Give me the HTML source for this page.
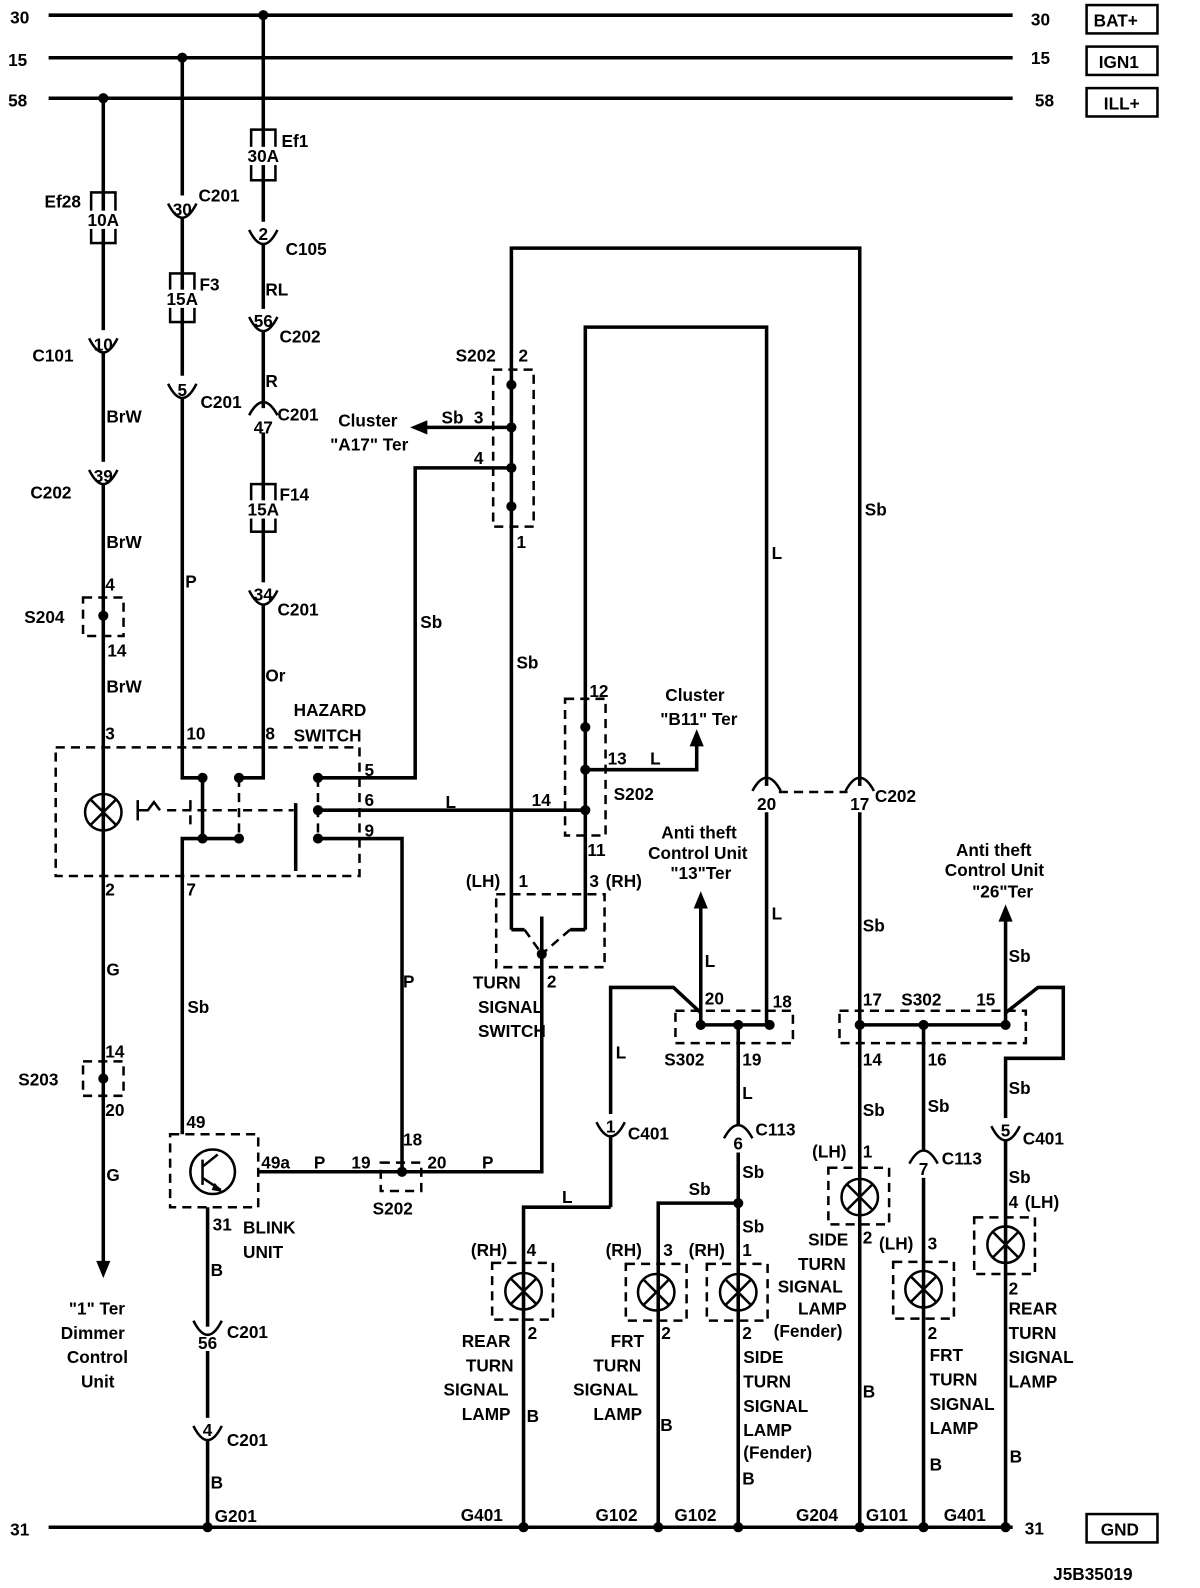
<!DOCTYPE html>
<html><head><meta charset="utf-8"><style>
html,body{margin:0;padding:0;background:#fff;overflow:hidden;width:1200px;height:1588px}
svg{display:block}
text{font-family:"Liberation Sans",Arial,sans-serif;font-weight:bold;font-size:17px;fill:#000}
.m{text-anchor:middle}
.w{stroke:#000;stroke-width:3.5;fill:none}
.t{stroke:#000;stroke-width:2.5;fill:none}
.d{stroke:#000;stroke-width:2.5;fill:none;stroke-dasharray:9,6}
</style></head><body>
<svg width="1200" height="1588" viewBox="0 0 1185 1568" preserveAspectRatio="none" xmlns="http://www.w3.org/2000/svg">
<!-- rails -->
<path class="w" d="M48 15H1000M48 57H1000M48 97H1000M48 1508H1000"/>
<text x="10" y="23">30</text><text x="8" y="65">15</text><text x="8" y="105">58</text><text x="10" y="1516">31</text>
<text x="1018" y="25">30</text><text x="1018" y="63">15</text><text x="1022" y="105">58</text><text x="1012" y="1515">31</text>
<rect x="1073" y="5" width="70" height="28" class="t"/><text x="1080" y="26">BAT+</text>
<rect x="1073" y="46" width="70" height="28" class="t"/><text x="1085" y="67">IGN1</text>
<rect x="1073" y="87" width="70" height="28" class="t"/><text x="1090" y="108">ILL+</text>
<rect x="1073" y="1495" width="70" height="28" class="t"/><text x="1087" y="1516">GND</text>
<text x="1040" y="1560">J5B35019</text>

<!-- x=102 column -->
<path class="w" d="M102 97V1250"/>
<path d="M95 1245L102 1262L109 1245Z"/>
<circle cx="102" cy="97" r="5"/>
<rect x="90" y="190" width="24" height="50" fill="#fff" class="t"/>
<rect x="88" y="208" width="28" height="18" fill="#fff"/>
<text x="102" y="223" class="m">10A</text><text x="44" y="205">Ef28</text>
<text x="32" y="357">C101</text><text x="105" y="417">BrW</text>
<text x="30" y="492">C202</text><text x="105" y="541">BrW</text>
<text x="104" y="583">4</text>
<rect x="82" y="590" width="40" height="38" class="d"/><circle cx="102" cy="608" r="5"/>
<text x="24" y="615">S204</text><text x="106" y="648">14</text>
<text x="105" y="684">BrW</text><text x="104" y="730">3</text>
<circle cx="102" cy="802" r="18" fill="#fff" class="t"/>
<path class="t" d="M89 789L115 815M115 789L89 815"/>
<text x="104" y="884">2</text><text x="105" y="963">G</text>
<text x="104" y="1044">14</text>
<rect x="82" y="1048" width="40" height="34" class="d"/><circle cx="102" cy="1065" r="5"/>
<text x="18" y="1072">S203</text><text x="104" y="1102">20</text>
<text x="105" y="1166">G</text>
<text x="68" y="1298">"1" Ter</text><text x="60" y="1322">Dimmer</text><text x="66" y="1346">Control</text><text x="80" y="1370">Unit</text>

<!-- x=180 column -->
<path class="w" d="M180 57V768H200M200 828H180V1120"/>
<circle cx="180" cy="57" r="5"/>
<text x="196" y="199">C201</text>
<rect x="168" y="270" width="24" height="48" fill="#fff" class="t"/>
<rect x="164" y="286" width="32" height="18" fill="#fff"/>
<text x="180" y="301" class="m">15A</text><text x="197" y="287">F3</text>
<text x="198" y="403">C201</text>
<text x="183" y="580">P</text><text x="184" y="730">10</text><text x="184" y="884">7</text>
<text x="185" y="1000">Sb</text><text x="184" y="1114">49</text>

<!-- x=260 column -->
<path class="w" d="M260 15V768H236"/>
<circle cx="260" cy="15" r="5"/>
<rect x="248" y="128" width="24" height="50" fill="#fff" class="t"/>
<rect x="244" y="145" width="32" height="18" fill="#fff"/>
<text x="260" y="160" class="m">30A</text><text x="278" y="145">Ef1</text>
<text x="282" y="252">C105</text>
<text x="262" y="292">RL</text>
<text x="276" y="338">C202</text>
<text x="262" y="382">R</text>
<text x="274" y="415">C201</text>
<rect x="248" y="478" width="24" height="47" fill="#fff" class="t"/>
<rect x="244" y="494" width="32" height="18" fill="#fff"/>
<text x="260" y="509" class="m">15A</text><text x="276" y="494">F14</text>
<text x="274" y="608">C201</text>
<text x="262" y="673">Or</text><text x="262" y="730">8</text>
<text x="290" y="707">HAZARD</text><text x="290" y="732">SWITCH</text>

<!-- hazard switch -->
<rect x="55" y="738" width="300" height="127" class="d"/>
<path class="w" d="M200 768V828H236"/>
<path class="d" d="M236 768V828M314 768V828M188 790V818M165 800H290"/>
<path class="w" d="M292 793V860"/>
<path class="t" d="M136 790V810M136 800H146L152 792L158 800"/>
<circle cx="200" cy="768" r="5"/><circle cx="236" cy="768" r="5"/><circle cx="200" cy="828" r="5"/><circle cx="236" cy="828" r="5"/>
<circle cx="314" cy="768" r="5"/><circle cx="314" cy="800" r="5"/><circle cx="314" cy="828" r="5"/>
<path class="w" d="M314 768H410V462H505M314 800H578M314 828H397V1157"/>
<text x="360" y="766">5</text><text x="360" y="796">6</text><text x="360" y="826">9</text>
<text x="415" y="620">Sb</text><text x="440" y="798">L</text><text x="525" y="796">14</text>
<text x="398" y="975">P</text>

<!-- blink unit -->
<rect x="168" y="1120" width="87" height="72" class="d"/>
<circle cx="210" cy="1157" r="22" class="t"/>
<path class="t" d="M200 1145V1170M200 1152L215 1140M200 1163L218 1175"/>
<path d="M212 1168L220 1177L209 1175Z"/>
<path class="w" d="M255 1157H397M397 1157H535V942"/>
<text x="258" y="1154">49a</text><text x="310" y="1154">P</text><text x="347" y="1154">19</text>
<text x="398" y="1131">18</text><text x="422" y="1154">20</text><text x="476" y="1154">P</text>
<rect x="376" y="1148" width="40" height="28" class="d"/><circle cx="397" cy="1157" r="5"/>
<text x="368" y="1199">S202</text>
<text x="210" y="1215">31</text><text x="240" y="1218">BLINK</text><text x="240" y="1242">UNIT</text>
<path class="w" d="M205 1192V1508"/>
<text x="208" y="1260">B</text>
<text x="224" y="1321">C201</text>
<text x="224" y="1428">C201</text>
<text x="208" y="1470">B</text><text x="212" y="1503">G201</text>
<circle cx="205" cy="1508" r="5"/>

<!-- x=505 / top loop -->
<path class="w" d="M505 918V245H849V1508M505 918H518"/>
<rect x="487" y="365" width="40" height="155" class="d"/>
<circle cx="505" cy="380" r="5"/><circle cx="505" cy="422" r="5"/><circle cx="505" cy="462" r="5"/><circle cx="505" cy="500" r="5"/>
<text x="450" y="357">S202</text><text x="512" y="357">2</text>
<path class="w" d="M505 422H420"/><path d="M422 415L405 422L422 429Z"/>
<text x="436" y="418">Sb</text><text x="468" y="418">3</text><text x="468" y="458">4</text><text x="510" y="541">1</text>
<text x="334" y="421">Cluster</text><text x="326" y="445">"A17" Ter</text>
<text x="510" y="660">Sb</text><text x="854" y="509">Sb</text>

<!-- x=578 loop -->
<path class="w" d="M578 918V323H757V1012"/>
<rect x="558" y="690" width="40" height="135" class="d"/>
<circle cx="578" cy="718" r="5"/><circle cx="578" cy="760" r="5"/><circle cx="578" cy="800" r="5"/>
<text x="582" y="688">12</text><text x="600" y="755">13</text><text x="606" y="790">S202</text><text x="580" y="845">11</text>
<path class="w" d="M578 760H688V735"/><path d="M681 737L688 720L695 737Z"/>
<text x="642" y="755">L</text>
<text x="657" y="692">Cluster</text><text x="652" y="716">"B11" Ter</text>
<text x="762" y="552">L</text>
<path class="d" d="M769 782H837"/>
<text x="864" y="792">C202</text>

<!-- turn signal switch -->
<rect x="490" y="883" width="107" height="72" class="d"/>
<path class="w" d="M578 918H563M535 905V942"/>
<path class="d" d="M518 918L535 942M563 918L535 942"/>
<circle cx="535" cy="942" r="5"/>
<text x="460" y="876">(LH)</text><text x="512" y="876">1</text><text x="582" y="876">3</text><text x="598" y="876">(RH)</text>
<text x="540" y="975">2</text>
<text x="467" y="976">TURN</text><text x="472" y="1000">SIGNAL</text><text x="472" y="1024">SWITCH</text>

<!-- S302 left -->
<text x="653" y="828">Anti theft</text><text x="640" y="848">Control Unit</text><text x="662" y="868">"13"Ter</text>
<path class="w" d="M692 1012V895"/><path d="M685 897L692 880L699 897Z"/>
<text x="696" y="955">L</text><text x="762" y="908">L</text>
<rect x="667" y="998" width="116" height="32" class="d"/>
<path class="w" d="M692 1012H760M603 1192V975H665L692 1000M729 1012V1508"/>
<circle cx="692" cy="1012" r="5"/><circle cx="729" cy="1012" r="5"/><circle cx="760" cy="1012" r="5"/>
<text x="696" y="992">20</text><text x="763" y="995">18</text><text x="656" y="1052">S302</text><text x="733" y="1052">19</text>
<text x="608" y="1045">L</text><text x="733" y="1085">L</text>
<text x="620" y="1125">C401</text>
<text x="746" y="1121">C113</text>
<text x="733" y="1163">Sb</text><text x="733" y="1217">Sb</text>
<path class="w" d="M603 1192H517V1508M729 1188H650V1508"/>
<circle cx="729" cy="1188" r="5"/>
<text x="555" y="1188">L</text><text x="680" y="1180">Sb</text>

<!-- lamps -->
<g>
<rect x="486" y="1247" width="60" height="56" class="d"/>
<circle cx="517" cy="1275" r="18" fill="#fff" class="t"/><path class="t" d="M504 1262L530 1288M530 1262L504 1288"/>
<rect x="618" y="1248" width="60" height="56" class="d"/>
<circle cx="648" cy="1276" r="18" fill="#fff" class="t"/><path class="t" d="M635 1263L661 1289M661 1263L635 1289"/>
<rect x="698" y="1248" width="60" height="56" class="d"/>
<circle cx="729" cy="1276" r="18" fill="#fff" class="t"/><path class="t" d="M716 1263L742 1289M742 1263L716 1289"/>
<rect x="818" y="1153" width="60" height="56" class="d"/>
<circle cx="849" cy="1182" r="18" fill="#fff" class="t"/><path class="t" d="M836 1169L862 1195M862 1169L836 1195"/>
<rect x="882" y="1246" width="60" height="56" class="d"/>
<circle cx="912" cy="1273" r="18" fill="#fff" class="t"/><path class="t" d="M899 1260L925 1286M925 1260L899 1286"/>
<rect x="962" y="1202" width="60" height="56" class="d"/>
<circle cx="993" cy="1229" r="18" fill="#fff" class="t"/><path class="t" d="M980 1216L1006 1242M1006 1216L980 1242"/>
</g>
<text x="465" y="1240">(RH)</text><text x="520" y="1240">4</text><text x="521" y="1322">2</text>
<text x="456" y="1330">REAR</text><text x="460" y="1354">TURN</text><text x="438" y="1378">SIGNAL</text><text x="456" y="1402">LAMP</text><text x="520" y="1404">B</text>
<text x="598" y="1240">(RH)</text><text x="655" y="1240">3</text><text x="653" y="1322">2</text>
<text x="603" y="1330">FRT</text><text x="586" y="1354">TURN</text><text x="566" y="1378">SIGNAL</text><text x="586" y="1402">LAMP</text><text x="652" y="1413">B</text>
<text x="680" y="1240">(RH)</text><text x="733" y="1240">1</text><text x="733" y="1322">2</text>
<text x="734" y="1346">SIDE</text><text x="734" y="1370">TURN</text><text x="734" y="1394">SIGNAL</text><text x="734" y="1418">LAMP</text><text x="734" y="1440">(Fender)</text><text x="733" y="1466">B</text>
<text x="802" y="1143">(LH)</text><text x="852" y="1143">1</text><text x="852" y="1228">2</text>
<text x="798" y="1230">SIDE</text><text x="788" y="1254">TURN</text><text x="768" y="1276">SIGNAL</text><text x="788" y="1298">LAMP</text><text x="764" y="1320">(Fender)</text>
<text x="852" y="920">Sb</text><text x="852" y="1102">Sb</text><text x="852" y="1380">B</text>
<text x="868" y="1234">(LH)</text><text x="916" y="1234">3</text><text x="916" y="1322">2</text>
<text x="918" y="1344">FRT</text><text x="918" y="1368">TURN</text><text x="918" y="1392">SIGNAL</text><text x="918" y="1416">LAMP</text><text x="918" y="1452">B</text>
<text x="996" y="1193">4</text><text x="1012" y="1193">(LH)</text><text x="996" y="1278">2</text>
<text x="996" y="1298">REAR</text><text x="996" y="1322">TURN</text><text x="996" y="1346">SIGNAL</text><text x="996" y="1370">LAMP</text><text x="997" y="1444">B</text>

<!-- S302 right -->
<text x="944" y="845">Anti theft</text><text x="933" y="865">Control Unit</text><text x="960" y="886">"26"Ter</text>
<path class="w" d="M993 1012V908"/><path d="M986 910L993 893L1000 910Z"/>
<text x="996" y="950">Sb</text>
<rect x="829" y="998" width="184" height="32" class="d"/>
<path class="w" d="M849 1012H993M912 1012V1508M993 1000L1025 975H1050V1045H993V1508"/>
<circle cx="849" cy="1012" r="5"/><circle cx="912" cy="1012" r="5"/><circle cx="993" cy="1012" r="5"/>
<text x="852" y="993">17</text><text x="890" y="993">S302</text><text x="964" y="993">15</text>
<text x="852" y="1052">14</text><text x="916" y="1052">16</text>
<text x="916" y="1098">Sb</text><text x="996" y="1080">Sb</text>
<text x="930" y="1150">C113</text>
<text x="996" y="1168">Sb</text>
<text x="1010" y="1130">C401</text>

<!-- connectors -->
<g fill="#fff">
<rect x="90" y="326" width="24" height="22"/><rect x="90" y="456" width="24" height="22"/>
<rect x="168" y="193" width="24" height="22"/><rect x="168" y="371" width="24" height="22"/>
<rect x="248" y="219" width="24" height="22"/><rect x="248" y="305" width="24" height="22"/>
<rect x="248" y="575" width="24" height="22"/><rect x="248" y="403" width="24" height="24"/>
<rect x="193" y="1310" width="24" height="24"/><rect x="193" y="1400" width="24" height="22"/>
<rect x="591" y="1100" width="24" height="22"/><rect x="981" y="1104" width="24" height="22"/>
<rect x="717" y="1112" width="24" height="26"/><rect x="900" y="1137" width="24" height="26"/>
<rect x="745" y="776" width="24" height="26"/><rect x="837" y="776" width="24" height="26"/>
</g>
<path class="t" d="M88 334Q102 362 116 334M88 464Q102 492 116 464M166 201Q180 229 194 201M166 379Q180 407 194 379M246 227Q260 255 274 227M246 313Q260 341 274 313M246 583Q260 611 274 583M191 1304Q205 1332 219 1304M191 1408Q205 1436 219 1408M589 1108Q603 1136 617 1108M979 1112Q993 1140 1007 1112"/>
<path class="t" d="M246 410Q260 384 274 410M715 1124Q729 1098 743 1124M898 1149Q912 1123 926 1149M743 781Q757 755 771 781M835 781Q849 755 863 781"/>
<text x="102" y="346" class="m">10</text><text x="102" y="476" class="m">39</text>
<text x="180" y="213" class="m">30</text><text x="180" y="391" class="m">5</text>
<text x="260" y="237" class="m">2</text><text x="260" y="323" class="m">56</text><text x="260" y="593" class="m">34</text>
<text x="260" y="428" class="m">47</text>
<text x="205" y="1332" class="m">56</text><text x="205" y="1418" class="m">4</text>
<text x="603" y="1118" class="m">1</text><text x="993" y="1122" class="m">5</text>
<text x="729" y="1135" class="m">6</text><text x="912" y="1160" class="m">7</text>
<text x="757" y="800" class="m">20</text><text x="849" y="800" class="m">17</text>

<!-- ground -->
<circle cx="517" cy="1508" r="5"/><circle cx="650" cy="1508" r="5"/><circle cx="729" cy="1508" r="5"/>
<circle cx="849" cy="1508" r="5"/><circle cx="912" cy="1508" r="5"/><circle cx="993" cy="1508" r="5"/>
<text x="455" y="1502">G401</text><text x="588" y="1502">G102</text><text x="666" y="1502">G102</text>
<text x="786" y="1502">G204</text><text x="855" y="1502">G101</text><text x="932" y="1502">G401</text>
</svg>
</body></html>
